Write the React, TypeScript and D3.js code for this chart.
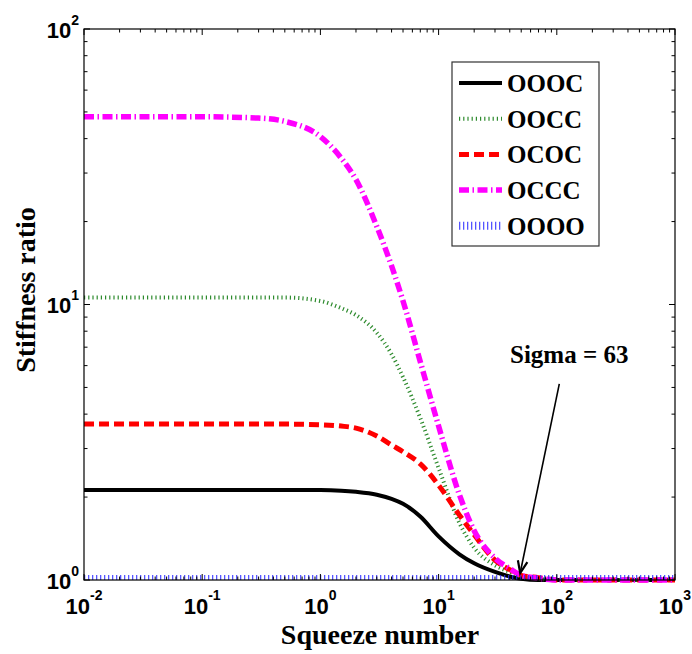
import React from 'react';
import * as d3 from 'd3';

const squeeze = [0.01, 0.1, 0.3, 0.5, 1, 1.5, 2, 3, 4, 5, 7, 10, 15, 20, 30, 40, 50, 70, 100, 1000];
const OOOC = [2.12, 2.12, 2.12, 2.12, 2.12, 2.11, 2.09, 2.04, 1.97, 1.89, 1.7, 1.44, 1.24, 1.15, 1.07, 1.03, 1.01, 1.0, 1.0, 1.0];
const OOCC = [10.6, 10.6, 10.6, 10.6, 10.3, 9.7, 9.15, 7.9, 6.6, 5.45, 3.87, 2.55, 1.61, 1.31, 1.13, 1.07, 1.03, 1.01, 1.0, 1.0];
const OCOC = [3.68, 3.68, 3.68, 3.68, 3.66, 3.62, 3.56, 3.33, 3.09, 2.92, 2.64, 2.21, 1.72, 1.46, 1.18, 1.09, 1.04, 1.02, 1.0, 1.0];
const OCCC = [48, 48, 47.5, 46.2, 40.7, 34, 28.4, 19.2, 13.8, 10.3, 6.2, 3.62, 2.04, 1.51, 1.2, 1.1, 1.04, 1.015, 1.0, 1.0];
const OOOO = [1, 1, 1, 1, 1, 1, 1, 1, 1, 1, 1, 1, 1, 1, 1, 1, 1, 1, 1, 1];

const xDecades = [-2, -1, 0, 1, 2, 3];
const yDecades = [0, 1, 2];

const seriesNames = ['OOOC', 'OOCC', 'OCOC', 'OCCC', 'OOOO'];
const seriesValues = [OOOC, OOCC, OCOC, OCCC, OOOO];

// annotation in data coordinates
const arrowFrom = [105, 5.15];
const arrowTo = [49, 1.06];
const sigmaPos = [40.2, 6.13];

const styles = [
  { color: '#000000', width: 4, dash: null, opacity: 1 },
  { color: '#2e8b2e', width: 4, dash: '1.2,3', opacity: 1 },
  { color: '#ff0000', width: 5, dash: '10,5', opacity: 1 },
  { color: '#ff00ff', width: 5.5, dash: '10,3.5,1.5,3.5', opacity: 1 },
  { color: '#2a2aff', width: 10, dash: '1.3,2.7', opacity: 0.8 },
];

const W = 692;
const H = 654;
const left = 84, right = 675, top = 29, bottom = 580;

export default function App() {
  const x = d3.scaleLog().domain([1e-2, 1e3]).range([left, right]);
  const y = d3.scaleLog().domain([1, 100]).range([bottom, top]);

  const line = d3
    .line<[number, number]>()
    .x((d) => x(d[0]))
    .y((d) => y(d[1]))
    .curve(d3.curveMonotoneX);

  const xMinor: number[] = [];
  xDecades.slice(0, -1).forEach((e) => {
    for (let k = 2; k <= 9; k++) xMinor.push(k * Math.pow(10, e));
  });
  const yMinor: number[] = [];
  yDecades.slice(0, -1).forEach((e) => {
    for (let k = 2; k <= 9; k++) yMinor.push(k * Math.pow(10, e));
  });

  const tickFont = { fontFamily: '"Liberation Sans", Arial, sans-serif', fontWeight: 'bold' as const };
  const labelFont = { fontFamily: '"Liberation Serif", "Times New Roman", serif', fontWeight: 'bold' as const };

  const ax = x(arrowFrom[0]), ay = y(arrowFrom[1]);
  const tx = x(arrowTo[0]), ty = y(arrowTo[1]);
  const ang = Math.atan2(ty - ay, tx - ax);
  const headLen = 13, headAng = 0.38;
  const h1 = [tx - headLen * Math.cos(ang - headAng), ty - headLen * Math.sin(ang - headAng)];
  const h2 = [tx - headLen * Math.cos(ang + headAng), ty - headLen * Math.sin(ang + headAng)];

  const legX = 452, legY = 62, legW = 147, legH = 184;
  const rowY0 = 83, rowStep = 35.7;

  return (
    <svg width={W} height={H} style={{ position: 'absolute', left: 0, top: 0, background: '#fff' }}>
      <defs>
        <clipPath id="plotclip">
          <rect x={left} y={top} width={right - left} height={bottom - top} />
        </clipPath>
      </defs>
      <rect x={0} y={0} width={W} height={H} fill="#fff" />

      {/* series */}
      {seriesValues.map((vals, i) => {
        const pts = squeeze.map((s, j) => [s, vals[j]] as [number, number]);
        const st = styles[i];
        return (
          <path
            key={seriesNames[i]}
            d={line(pts) || ''}
            fill="none"
            stroke={st.color}
            strokeWidth={st.width}
            strokeDasharray={st.dash || undefined}
            strokeOpacity={st.opacity}
            clipPath={i === 4 ? 'url(#plotclip)' : undefined}
          />
        );
      })}

      {/* axes box */}
      <rect x={left} y={top} width={right - left} height={bottom - top} fill="none" stroke="#000" strokeWidth={1.2} />

      {/* x ticks */}
      {xDecades.map((e) => {
        const px = x(Math.pow(10, e));
        return (
          <g key={'xt' + e}>
            <line x1={px} x2={px} y1={bottom} y2={bottom - 6} stroke="#000" />
            <line x1={px} x2={px} y1={top} y2={top + 6} stroke="#000" />
            <text x={px} y={614} textAnchor="middle" fontSize={22} {...tickFont}>
              10
              <tspan dy={-14} fontSize={14}>{e}</tspan>
            </text>
          </g>
        );
      })}
      {xMinor.map((v, i) => (
        <g key={'xm' + i}>
          <line x1={x(v)} x2={x(v)} y1={bottom} y2={bottom - 3.5} stroke="#000" />
          <line x1={x(v)} x2={x(v)} y1={top} y2={top + 3.5} stroke="#000" />
        </g>
      ))}

      {/* y ticks */}
      {yDecades.map((e) => {
        const py = y(Math.pow(10, e));
        return (
          <g key={'yt' + e}>
            <line x1={left} x2={left + 6} y1={py} y2={py} stroke="#000" />
            <line x1={right} x2={right - 6} y1={py} y2={py} stroke="#000" />
            <text x={79} y={py + 8.5} textAnchor="end" fontSize={22} {...tickFont}>
              10
              <tspan dy={-13} fontSize={14}>{e}</tspan>
            </text>
          </g>
        );
      })}
      {yMinor.map((v, i) => (
        <g key={'ym' + i}>
          <line x1={left} x2={left + 3.5} y1={y(v)} y2={y(v)} stroke="#000" />
          <line x1={right} x2={right - 3.5} y1={y(v)} y2={y(v)} stroke="#000" />
        </g>
      ))}

      {/* axis labels */}
      <text x={380} y={644} textAnchor="middle" fontSize={28} {...labelFont}>
        Squeeze number
      </text>
      <text
        transform={`translate(35,${290}) rotate(-90)`}
        textAnchor="middle"
        fontSize={28}
        {...labelFont}
      >
        Stiffness ratio
      </text>

      {/* legend */}
      <rect x={legX} y={legY} width={legW} height={legH} fill="#fff" stroke="#333" strokeWidth={1.2} />
      {seriesNames.map((name, i) => {
        const ry = rowY0 + i * rowStep;
        const st = styles[i];
        return (
          <g key={'lg' + name}>
            <line
              x1={459}
              x2={502}
              y1={ry}
              y2={ry}
              stroke={st.color}
              strokeWidth={i === 4 ? 8 : st.width}
              strokeDasharray={st.dash || undefined}
              strokeOpacity={st.opacity}
            />
            <text x={507} y={ry + 9} fontSize={25} {...labelFont}>
              {name}
            </text>
          </g>
        );
      })}

      {/* annotation */}
      <line x1={ax} y1={ay} x2={tx} y2={ty} stroke="#000" strokeWidth={1.6} />
      <polyline
        points={`${h1[0]},${h1[1]} ${tx},${ty} ${h2[0]},${h2[1]}`}
        fill="none"
        stroke="#000"
        strokeWidth={2.2}
      />
      <text x={x(sigmaPos[0])} y={y(sigmaPos[1])} fontSize={25} {...labelFont}>
        Sigma = 63
      </text>
    </svg>
  );
}
